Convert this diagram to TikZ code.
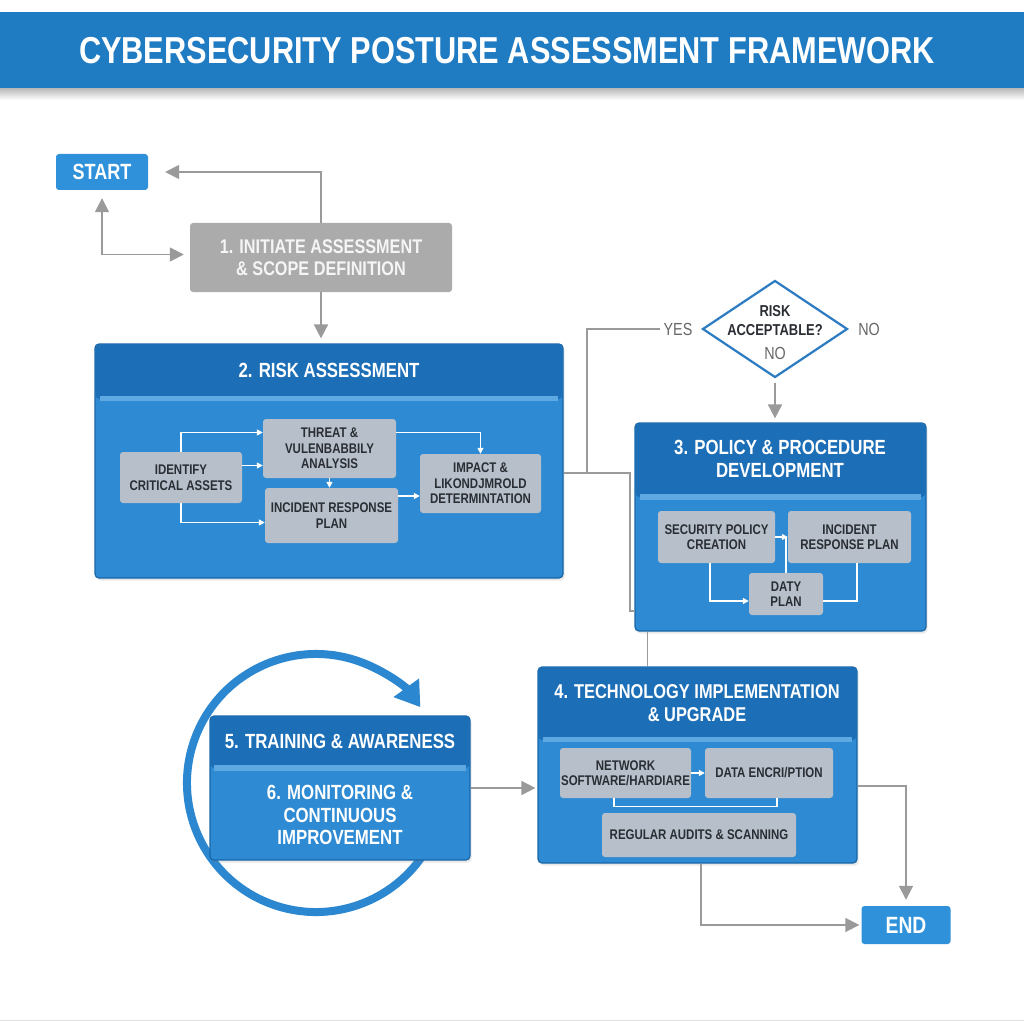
\documentclass[tikz,border=0pt]{standalone}
\usepackage{fontspec}
\setmainfont{Liberation Sans}[FakeStretch=0.82]
\usetikzlibrary{arrows.meta,shapes.geometric,shadows}
\definecolor{titleblue}{HTML}{1F7BC2}
\definecolor{hdrblue}{HTML}{1C6EB6}
\definecolor{bodyblue}{HTML}{2E8AD2}
\definecolor{edgeblue}{HTML}{1A66A8}
\definecolor{stripeblue}{HTML}{5EA9E2}
\definecolor{startblue}{HTML}{2F91DA}
\definecolor{innergray}{HTML}{B7C0CA}
\definecolor{innertext}{HTML}{2A2E34}
\definecolor{boxgray}{HTML}{ABABAB}
\definecolor{lgray}{HTML}{9A9A9A}
\definecolor{circblue}{HTML}{2B87D0}
\definecolor{diaedge}{HTML}{2B7CC1}
\newcommand\myfs[2]{\fontsize{#1}{#2}\selectfont}
\tikzset{
  container/.style={rectangle, rounded corners=4pt, fill=bodyblue, draw=edgeblue, line width=1.2pt, inner sep=0pt,
     drop shadow={opacity=0.18, shadow xshift=1.5pt, shadow yshift=-2.5pt}},
  hdrtxt/.style={text=white, font=\bfseries\myfs{20.5}{22.5}, align=center, inner sep=0pt},
  innerbox/.style={rectangle, rounded corners=3pt, fill=innergray, text=innertext, font=\bfseries\myfs{14}{15.5}, align=center, inner sep=0pt},
  gline/.style={draw=lgray, line width=1.7pt},
  garrow/.style={gline, -{Triangle[length=14pt,width=14pt]}},
  wline/.style={draw=white, line width=1.3pt},
  warrow/.style={wline, -{Triangle[length=6pt,width=6pt]}},
  termbox/.style={rectangle, rounded corners=3pt, fill=startblue, text=white, font=\bfseries\myfs{22}{24}, inner sep=0pt},
}
\begin{document}
\begin{tikzpicture}[x=1pt,y=-1pt]
\fill[white] (0,0) rectangle (1024,1024);
\useasboundingbox (0,0) rectangle (1024,1024);
% title bar
\shade[top color=black!28, bottom color=white] (0,88) rectangle (1024,100);
\fill[titleblue] (0,12) rectangle (1024,88);
\node[text=white, font=\bfseries\myfs{37.5}{40}, inner sep=0pt] (title) at (507,51) {CYBERSECURITY POSTURE ASSESSMENT FRAMEWORK};
\draw[black!12, line width=1pt] (0,1020) -- (1024,1020);

% circular arrow behind box 5
\coordinate (cc) at (316,783);
\draw[circblue, line width=8pt, -{Triangle[length=24pt,width=30pt]}] (cc) ++(20:129) arc[start angle=20, end angle=324, radius=129];

% start / end
\node[termbox, minimum width=92pt, minimum height=36pt] (start) at (102,172) {START};
\node[termbox, font=\bfseries\myfs{23.5}{25}, minimum width=89pt, minimum height=38pt] (end) at (906,925) {END};

% box 1
\node[rectangle, rounded corners=3pt, fill=boxgray, text=white!96!black, font=\bfseries\myfs{19.8}{22}, align=center,
      minimum width=262pt, minimum height=69pt, inner sep=0pt] (b1) at (321,257.5) {1. INITIATE ASSESSMENT\\\& SCOPE DEFINITION};

% box 2
\node[container, minimum width=468pt, minimum height=234pt] (b2) at (329,461) {};
\fill[hdrblue, rounded corners=4pt] (95.6,344.6) rectangle (562.4,399);
\fill[stripeblue] (100,396) rectangle (558,401);
\node[hdrtxt] (t2) at (329,370) {2. RISK ASSESSMENT};
\node[innerbox, minimum width=122pt, minimum height=51pt] (ida) at (181,477.5) {IDENTIFY\\CRITICAL ASSETS};
\node[innerbox, minimum width=133pt, minimum height=59pt] (thr) at (329.5,448.5) {THREAT \&\\VULENBABBILY\\ANALYSIS};
\node[innerbox, minimum width=133pt, minimum height=55pt] (inc) at (331.5,515.5) {INCIDENT RESPONSE\\PLAN};
\node[innerbox, minimum width=121pt, minimum height=59pt] (imp) at (480.5,483.5) {IMPACT \&\\LIKONDJMROLD\\DETERMINTATION};
\draw[warrow] (ida.north) |- ([yshift=16pt]thr.west);
\draw[warrow] ([yshift=12pt]ida.east) -- ([yshift=12pt]ida.east -| thr.west);
\draw[warrow] (ida.south) |- ([yshift=-7pt]inc.west);
\draw[warrow] ([yshift=16pt]thr.east) -| (imp.north);
\draw[warrow] (thr.south) -- (thr.south |- inc.north);
\draw[warrow] ([yshift=19.5pt]inc.east) -- ([yshift=19.5pt]inc.east -| imp.west);

% decision
\node[diamond, draw=diaedge, line width=2.2pt, fill=white, minimum width=145pt, minimum height=97pt, inner sep=0pt] (dia) at (775,329) {};
\node[font=\bfseries\myfs{15.8}{19}, text=innertext, align=center, inner sep=0pt] (diat) at (775,321) {RISK\\ACCEPTABLE?};
\node[font=\myfs{17.5}{19}, text=black!60, inner sep=0pt] (dino) at (775,353) {NO};
\node[font=\myfs{17.5}{19}, text=black!60, inner sep=0pt] (yes) at (678,329) {YES};
\node[font=\myfs{17.5}{19}, text=black!60, inner sep=0pt] (no) at (869,329) {NO};

% box 3
\node[container, minimum width=291pt, minimum height=208pt] (b3) at (780.5,527) {};
\fill[hdrblue, rounded corners=4pt] (635.6,423.6) rectangle (925.4,497);
\fill[stripeblue] (640,494) rectangle (921,500);
\node[hdrtxt] (t3) at (780,459) {3. POLICY \& PROCEDURE\\DEVELOPMENT};
\node[innerbox, minimum width=117pt, minimum height=52pt] (sp) at (716.5,537) {SECURITY POLICY\\CREATION};
\node[innerbox, minimum width=123pt, minimum height=52pt] (irp) at (849.5,537) {INCIDENT\\RESPONSE PLAN};
\node[innerbox, minimum width=74pt, minimum height=42pt] (dp) at (786,594) {DATY\\PLAN};
\draw[wline] (dp.north) -- (dp.north |- sp.east);
\draw[warrow] (sp.east) -- (irp.west);
\draw[warrow] ([xshift=-6.5pt]sp.south) |- ([yshift=-7pt]dp.west);
\draw[wline] ([xshift=7.5pt]irp.south) |- ([yshift=-7pt]dp.east);

% box 4
\node[container, minimum width=319pt, minimum height=196pt] (b4) at (697.5,765) {};
\fill[hdrblue, rounded corners=4pt] (538.6,667.6) rectangle (856.4,740);
\fill[stripeblue] (543,737) rectangle (852,742);
\node[hdrtxt, font=\bfseries\myfs{20}{22.5}] (t4) at (697,703) {4. TECHNOLOGY IMPLEMENTATION\\\& UPGRADE};
\node[innerbox, minimum width=131pt, minimum height=50pt] (net) at (625.5,773) {NETWORK\\SOFTWARE/HARDIARE};
\node[innerbox, minimum width=128pt, minimum height=50pt] (enc) at (769,773) {DATA ENCRI/PTION};
\node[innerbox, minimum width=194pt, minimum height=44pt] (aud) at (699,835) {REGULAR AUDITS \& SCANNING};
\draw[warrow] (net.east) -- (enc.west);
\draw[wline] ([xshift=-11.5pt]net.south) -- ++(0,8) -| ([xshift=8pt]enc.south);

% box 5/6
\node[container, minimum width=260pt, minimum height=144pt] (b5) at (340,788) {};
\fill[hdrblue, rounded corners=4pt] (210.6,716.6) rectangle (469.4,768);
\fill[stripeblue] (214,765) rectangle (466,771);
\node[hdrtxt] (t5) at (340,741) {5. TRAINING \& AWARENESS};
\node[hdrtxt] (t6) at (340,815) {6. MONITORING \&\\CONTINUOUS\\IMPROVEMENT};

% grey connectors
\draw[garrow] (b1.north) |- ([xshift=17pt]start.east);
\draw[gline, {Triangle[length=14pt,width=14pt]}-{Triangle[length=14pt,width=14pt]}, shorten <=8pt, shorten >=6pt] (start.south) |- ([yshift=3pt]b1.west);
\draw[garrow, shorten >=5pt] (b1.south) -- (b1.south |- b2.north);
\coordinate (ja) at (587,473);
\coordinate (jb) at (630,473);
\coordinate (jc) at (635,611);
\draw[gline] ([xshift=-3pt]yes.west) -| (ja);
\draw[gline] (b2.east |- ja) -- (jb) |- (jc);
\draw[gline] ([xshift=13pt]b3.south west) -- ([xshift=110pt]b4.north west);
\draw[garrow, shorten >=4pt] ([yshift=-4pt]dia.south) -- (dia.south |- b3.north);
\draw[garrow, shorten >=2pt] (b5.east) -- (b5.east -| b4.west);
\draw[garrow, shorten >=6pt] ([yshift=-21pt]b4.east) -| (end.north);
\draw[garrow, shorten >=2pt] ([xshift=3.5pt]b4.south) |- (end.west);
\end{tikzpicture}
\end{document}
